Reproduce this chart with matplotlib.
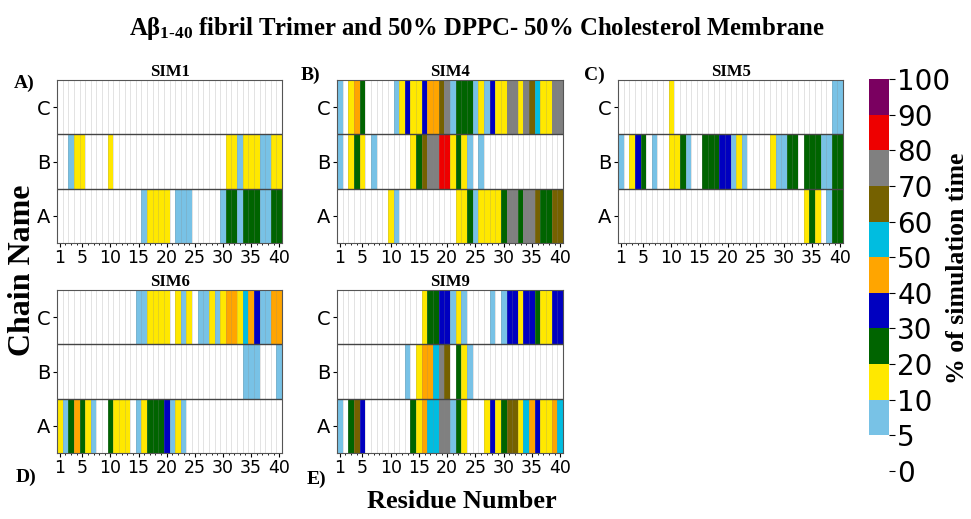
import numpy as np
import matplotlib
matplotlib.use('Agg')
import matplotlib.pyplot as plt
from matplotlib.colors import ListedColormap, BoundaryNorm
from matplotlib.cm import ScalarMappable

# % of simulation time each residue (1-40) of each chain is in contact
residues = list(range(1, 41))
chains = ['A', 'B', 'C']

sim1_A = [0, 0, 0, 0, 0, 0, 0, 0, 0, 0, 0, 0, 0, 0, 0, 7, 15, 15, 15, 15,
          0, 7, 7, 7, 0, 0, 0, 0, 0, 7, 25, 25, 7, 25, 25, 25, 7, 7, 25, 25]
sim1_B = [0, 0, 7, 15, 15, 0, 0, 0, 0, 15, 0, 0, 0, 0, 0, 0, 0, 0, 0, 0,
          0, 0, 0, 0, 0, 0, 0, 0, 0, 0, 15, 15, 7, 15, 15, 15, 7, 7, 15, 15]
sim1_C = [0] * 40

sim4_A = [0, 0, 0, 0, 0, 0, 0, 0, 0, 15, 7, 0, 0, 0, 0, 0, 0, 0, 0, 0,
          0, 15, 15, 25, 7, 15, 15, 15, 15, 25, 75, 75, 25, 75, 75, 65, 25, 25, 65, 65]
sim4_B = [7, 0, 15, 25, 15, 0, 7, 0, 0, 0, 0, 0, 0, 15, 25, 65, 75, 75, 85, 85,
          15, 25, 15, 7, 0, 7, 0, 0, 0, 0, 0, 0, 0, 0, 0, 0, 0, 0, 0, 0]
sim4_C = [7, 0, 15, 45, 25, 0, 0, 0, 0, 0, 7, 15, 35, 15, 15, 35, 45, 45, 65, 75,
          7, 25, 25, 25, 7, 15, 7, 35, 15, 15, 75, 75, 15, 75, 65, 55, 15, 15, 75, 75]

sim5_A = [0, 0, 0, 0, 0, 0, 0, 0, 0, 0, 0, 0, 0, 0, 0, 0, 0, 0, 0, 0,
          0, 0, 0, 0, 0, 0, 0, 0, 0, 0, 0, 0, 0, 15, 25, 15, 0, 7, 25, 25]
sim5_B = [7, 0, 15, 35, 25, 0, 7, 0, 0, 15, 15, 25, 7, 0, 0, 25, 25, 25, 35, 35,
          7, 15, 7, 0, 0, 0, 0, 15, 7, 7, 25, 25, 0, 25, 25, 25, 7, 7, 25, 25]
sim5_C = [0, 0, 0, 0, 0, 0, 0, 0, 0, 15, 0, 0, 0, 0, 0, 0, 0, 0, 0, 0,
          0, 0, 0, 0, 0, 0, 0, 0, 0, 0, 0, 0, 0, 0, 0, 0, 0, 0, 7, 7]

sim6_A = [15, 7, 25, 45, 25, 15, 7, 0, 0, 25, 15, 15, 15, 0, 7, 15, 25, 25, 25, 35,
          7, 15, 7, 0, 0, 0, 0, 0, 0, 0, 0, 0, 0, 0, 0, 0, 0, 0, 0, 0]
sim6_B = [0, 0, 0, 0, 0, 0, 0, 0, 0, 0, 0, 0, 0, 0, 0, 0, 0, 0, 0, 0,
          0, 0, 0, 0, 0, 0, 0, 0, 0, 0, 0, 0, 0, 7, 7, 7, 0, 0, 0, 7]
sim6_C = [0, 0, 0, 0, 0, 0, 0, 0, 0, 0, 0, 0, 0, 0, 7, 7, 15, 15, 15, 15,
          0, 15, 7, 15, 0, 7, 7, 15, 7, 15, 45, 45, 15, 55, 45, 35, 7, 7, 45, 45]

sim9_A = [7, 0, 25, 65, 35, 0, 0, 0, 0, 0, 0, 0, 0, 25, 15, 45, 55, 55, 75, 75,
          7, 25, 15, 0, 0, 0, 15, 35, 15, 25, 65, 65, 15, 55, 45, 35, 15, 15, 45, 55]
sim9_B = [0, 0, 0, 0, 0, 0, 0, 0, 0, 0, 0, 0, 7, 0, 15, 45, 45, 55, 75, 65,
          0, 25, 15, 7, 0, 0, 0, 0, 0, 0, 0, 0, 0, 0, 0, 0, 0, 0, 0, 0]
sim9_C = [0, 0, 0, 0, 0, 0, 0, 0, 0, 0, 0, 0, 0, 0, 0, 15, 25, 25, 35, 35,
          7, 15, 7, 0, 0, 0, 0, 7, 0, 7, 35, 35, 15, 35, 35, 25, 15, 15, 35, 35]

levels = [0, 5, 10, 20, 30, 40, 50, 60, 70, 80, 90, 100]
colors = ['#ffffff', '#78c2e6', '#ffe800', '#006400', '#0000c0', '#ffa500',
          '#00bde0', '#756100', '#808080', '#ee0000', '#7a0060']
cmap = ListedColormap(colors)
norm = BoundaryNorm(levels, cmap.N)

serif = 'Liberation Serif'
plt.rcParams['font.family'] = 'DejaVu Sans'
plt.rcParams['mathtext.fontset'] = 'custom'
plt.rcParams['mathtext.rm'] = 'Liberation Serif:bold'
plt.rcParams['mathtext.it'] = 'Liberation Serif:bold'
plt.rcParams['mathtext.bf'] = 'Liberation Serif:bold'

fig = plt.figure(figsize=(9.71, 5.19), dpi=100)
W, H = 971, 519


def px_axes(x0, y0, x1, y1):
    return fig.add_axes([x0 / W, 1 - y1 / H, (x1 - x0) / W, (y1 - y0) / H])


panels = [
    ('SIM1', (sim1_A, sim1_B, sim1_C), (57, 80, 282, 243)),
    ('SIM4', (sim4_A, sim4_B, sim4_C), (337, 80, 563, 243)),
    ('SIM5', (sim5_A, sim5_B, sim5_C), (618, 80, 843, 243)),
    ('SIM6', (sim6_A, sim6_B, sim6_C), (57, 290, 282, 453)),
    ('SIM9', (sim9_A, sim9_B, sim9_C), (337, 290, 563, 453)),
]

for name, rows, box in panels:
    ax = px_axes(*box)
    data = np.array(rows, dtype=float)
    ax.pcolormesh(np.arange(41), np.arange(4), data, cmap=cmap, norm=norm)
    ax.vlines(np.arange(1, 40), 0, 3, color='#888888', lw=0.6, alpha=0.28)
    ax.hlines([1, 2], 0, 40, color='#444444', lw=1.0)
    ax.set_xlim(0, 40)
    ax.set_ylim(0, 3)
    tick_res = [1, 5, 10, 15, 20, 25, 30, 35, 40]
    ax.set_xticks([r - 0.5 for r in tick_res])
    ax.set_xticklabels([str(r) for r in tick_res], fontsize=12.5)
    ax.set_xticks([r - 0.5 for r in residues], minor=True)
    ax.tick_params(axis='x', which='major', length=3, pad=1)
    ax.tick_params(axis='x', which='minor', length=1.5)
    ax.set_yticks([0.5, 1.5, 2.5])
    ax.set_yticklabels(chains, fontsize=14)
    ax.tick_params(axis='y', length=3, pad=2)
    for s in ax.spines.values():
        s.set_color('#555555')
        s.set_linewidth(0.8)
    ax.text(0.5, 1.0, name, transform=ax.transAxes, ha='center', va='bottom',
            family=serif, fontweight='bold', fontsize=12)

# colorbar
cax = px_axes(869, 79, 889, 471)
cb = fig.colorbar(ScalarMappable(norm=norm, cmap=cmap), cax=cax,
                  ticks=levels, spacing='uniform')
cb.outline.set_visible(False)
cb.ax.tick_params(labelsize=20, length=4, pad=2)
fig.text(957 / W, 1 - 268 / H, '% of simulation time', rotation=90,
         ha='center', va='center', family=serif, fontweight='bold', fontsize=18.5)

# texts
fig.text(477 / W, 1 - 28 / H,
         r'A$\beta_{1\text{-}40}$ fibril Trimer and 50% DPPC- 50% Cholesterol Membrane',
         ha='center', va='center', family=serif, fontweight='bold', fontsize=17.8)
fig.text(23 / W, 1 - 270 / H, 'Chain Name', rotation=90, ha='center', va='center',
         family=serif, fontweight='bold', fontsize=23)
fig.text(462 / W, 1 - 502 / H, 'Residue Number', ha='center', va='center',
         family=serif, fontweight='bold', fontsize=19)
for lab, x, y in [('A)', 24, 83), ('B)', 310, 75), ('C)', 594, 75),
                  ('D)', 26, 477), ('E)', 316, 479)]:
    fig.text(x / W, 1 - y / H, lab, ha='center', va='center',
             family=serif, fontweight='bold', fontsize=14)

fig.savefig('out.png', dpi=100)
